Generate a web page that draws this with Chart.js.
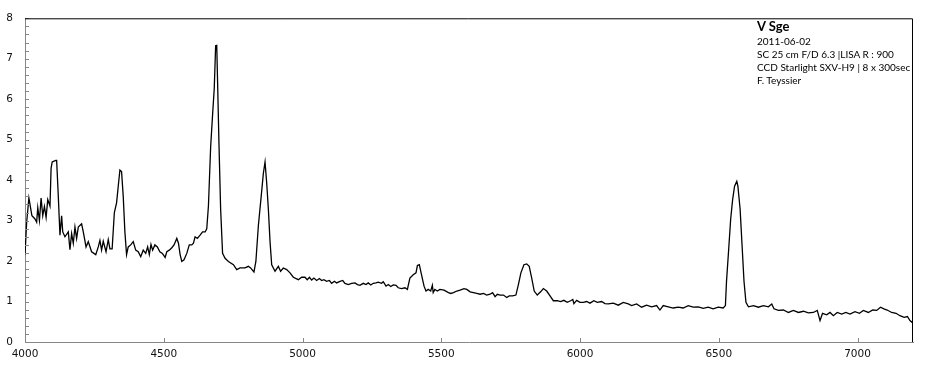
<!DOCTYPE html>
<html>
<head>
<meta charset="utf-8">
<script src="https://cdn.jsdelivr.net/npm/chart.js@4/dist/chart.umd.min.js"></script>
<style>
  body { margin: 0; background: #fff; }
  #wrap { position: relative; width: 941px; height: 375px; }
  .note { position: absolute; left: 757px; font-family: Lato, "Liberation Sans", sans-serif; font-size: 10px; color: #000; white-space: nowrap; line-height: 12px; }
  .note.titre { font-size: 13px; font-weight: bold; line-height: 16px; }
</style>
</head>
<body>
<div id="wrap">
  <canvas id="spectre" width="941" height="375"></canvas>
  <div class="note titre" style="top:18px">V Sge</div>
  <div class="note" style="top:35px">2011-06-02</div>
  <div class="note" style="top:48px">SC 25 cm F/D 6.3 |LISA R : 900</div>
  <div class="note" style="top:61px">CCD Starlight SXV-H9 | 8 x 300sec</div>
  <div class="note" style="top:74px">F. Teyssier</div>
</div>
<script>
const longueurs = [
  4000, 4006, 4014, 4025, 4036, 4042, 4046, 4052, 4058, 4064, 4070, 4076, 4082, 4090,
  4094, 4098, 4111, 4114, 4120, 4126, 4132, 4136, 4144, 4156, 4162, 4168, 4174, 4180,
  4186, 4192, 4204, 4210, 4220, 4228, 4240, 4255, 4264, 4270, 4276, 4282, 4292, 4300,
  4306, 4314, 4322, 4330, 4336, 4342, 4348, 4354, 4360, 4366, 4372, 4381, 4390, 4399,
  4408, 4417, 4426, 4435, 4442, 4448, 4454, 4460, 4468, 4477, 4486, 4495, 4505, 4511,
  4520, 4529, 4537, 4547, 4553, 4559, 4565, 4573, 4583, 4592, 4601, 4607, 4613, 4621,
  4631, 4640, 4649, 4655, 4661, 4669, 4676, 4682, 4687, 4691, 4694, 4699, 4705, 4712,
  4721, 4733, 4751, 4763, 4775, 4793, 4805, 4813, 4825, 4832, 4841, 4850, 4859, 4865,
  4871, 4877, 4883, 4889, 4901, 4913, 4921, 4931, 4943, 4955, 4967, 4985, 4997,
  5009, 5017, 5025, 5033, 5041, 5051, 5061, 5069, 5077, 5087, 5097, 5105, 5115, 5123,
  5135, 5145, 5153, 5165, 5177, 5189, 5198, 5207, 5219, 5229, 5237, 5246, 5255, 5265,
  5273, 5285, 5291, 5301, 5309, 5318, 5327, 5337, 5345, 5357, 5369, 5378, 5387, 5399,
  5409, 5414, 5421, 5429, 5438, 5445, 5453, 5462, 5468, 5471, 5477, 5486, 5495, 5510,
  5526, 5534, 5544, 5556, 5568, 5582, 5592, 5604, 5616, 5628, 5640, 5652, 5664, 5676,
  5685, 5694, 5702, 5712, 5724, 5736, 5745, 5757, 5769, 5778, 5787, 5798, 5808, 5817,
  5826, 5835, 5846, 5858, 5868, 5880, 5892, 5904, 5918, 5930, 5942, 5954, 5966, 5974,
  5978, 5988, 6000, 6012, 6024, 6036, 6050, 6062, 6078, 6090, 6102, 6120, 6138, 6156,
  6174, 6186, 6204, 6222, 6240, 6258, 6276, 6288, 6300, 6318, 6336, 6354, 6372, 6390,
  6408, 6426, 6444, 6462, 6480, 6498, 6516, 6524, 6528, 6536, 6543, 6550, 6557, 6565,
  6569, 6577, 6584, 6591, 6598, 6607, 6625, 6643, 6661, 6679, 6691, 6699, 6715, 6733,
  6751, 6769, 6787, 6805, 6823, 6841, 6855, 6865, 6874, 6889, 6901, 6913, 6927, 6943,
  6958, 6973, 6991, 7007, 7021, 7039, 7055, 7069, 7083, 7095, 7107, 7123, 7139, 7153,
  7168, 7180, 7189, 7196, 7200
];
const flux = [
  2.16, 2.96, 3.56, 3.12, 3.04, 2.96, 3.32, 3.00, 3.56, 3.12, 3.35, 3.08, 3.52, 3.36,
  4.29, 4.45, 4.49, 4.49, 3.60, 2.64, 3.12, 2.72, 2.60, 2.72, 2.28, 2.68, 2.44, 2.84,
  2.56, 2.84, 2.92, 2.72, 2.35, 2.48, 2.23, 2.16, 2.35, 2.51, 2.27, 2.49, 2.23, 2.53,
  2.30, 2.30, 3.20, 3.44, 3.85, 4.25, 4.21, 3.60, 2.72, 2.16, 2.35, 2.40, 2.48, 2.27,
  2.23, 2.11, 2.27, 2.19, 2.35, 2.16, 2.41, 2.27, 2.40, 2.35, 2.23, 2.19, 2.09, 2.23,
  2.27, 2.33, 2.40, 2.56, 2.44, 2.16, 1.99, 2.03, 2.19, 2.40, 2.40, 2.44, 2.60, 2.56,
  2.64, 2.72, 2.72, 2.80, 3.36, 4.82, 5.62, 6.27, 7.32, 7.33, 6.43, 4.90, 3.28, 2.19,
  2.07, 1.99, 1.91, 1.79, 1.83, 1.83, 1.87, 1.83, 1.73, 1.99, 2.88, 3.52, 4.17, 4.45,
  3.93, 3.28, 2.48, 1.91, 1.75, 1.87, 1.75, 1.83, 1.79, 1.71, 1.60, 1.54, 1.60,
  1.60, 1.54, 1.60, 1.53, 1.58, 1.52, 1.57, 1.52, 1.54, 1.50, 1.52, 1.45, 1.50, 1.46,
  1.50, 1.52, 1.45, 1.42, 1.45, 1.46, 1.42, 1.40, 1.45, 1.42, 1.46, 1.41, 1.45, 1.46,
  1.48, 1.45, 1.49, 1.38, 1.42, 1.37, 1.41, 1.40, 1.34, 1.32, 1.34, 1.30, 1.58, 1.66,
  1.71, 1.89, 1.91, 1.66, 1.38, 1.26, 1.30, 1.26, 1.40, 1.22, 1.30, 1.26, 1.30, 1.28,
  1.22, 1.20, 1.22, 1.26, 1.28, 1.32, 1.30, 1.24, 1.22, 1.20, 1.18, 1.20, 1.16, 1.18,
  1.22, 1.12, 1.18, 1.16, 1.16, 1.10, 1.14, 1.14, 1.16, 1.42, 1.71, 1.91, 1.93, 1.87,
  1.58, 1.26, 1.16, 1.24, 1.32, 1.26, 1.14, 1.02, 1.02, 1.00, 1.03, 0.98, 1.02, 1.05,
  0.95, 1.03, 0.98, 0.98, 1.00, 0.96, 1.02, 0.98, 1.00, 0.95, 0.94, 0.96, 0.91, 0.98,
  0.94, 0.90, 0.94, 0.86, 0.91, 0.87, 0.90, 0.79, 0.90, 0.87, 0.84, 0.86, 0.84, 0.90,
  0.86, 0.87, 0.83, 0.86, 0.82, 0.86, 0.84, 0.90, 1.50, 2.31, 3.04, 3.52, 3.85, 3.97,
  3.85, 3.28, 2.39, 1.50, 0.98, 0.87, 0.90, 0.86, 0.90, 0.87, 0.94, 0.82, 0.78, 0.79,
  0.73, 0.78, 0.73, 0.76, 0.72, 0.73, 0.78, 0.53, 0.71, 0.67, 0.73, 0.65, 0.73, 0.69,
  0.73, 0.69, 0.75, 0.71, 0.78, 0.73, 0.79, 0.78, 0.86, 0.82, 0.79, 0.73, 0.71, 0.65,
  0.61, 0.63, 0.53, 0.49, 0.53
];
const ticksX = [4000, 4500, 5000, 5500, 6000, 6500, 7000];
const ticksY = [0, 1, 2, 3, 4, 5, 6, 7, 8];

const points = longueurs.map((l, i) => ({ x: l, y: flux[i] }));
const gris = '#868686';

// petits traits vers l'intérieur + cadre noir en haut et à droite
const cadre = {
  id: 'cadre',
  afterDraw(chart) {
    const ctx = chart.ctx;
    const a = chart.chartArea;
    const sx = chart.scales.x, sy = chart.scales.y;
    ctx.save();
    ctx.lineWidth = 1;
    ctx.strokeStyle = gris;
    ctx.beginPath();
    for (let v = 0; v <= 8.001; v += 0.2) {
      const y = Math.round(sy.getPixelForValue(v)) + 0.5;
      ctx.moveTo(a.left, y);
      ctx.lineTo(a.left + 4, y);
    }
    ticksX.forEach(t => {
      const x = Math.round(sx.getPixelForValue(t)) + 0.5;
      ctx.moveTo(x, a.bottom);
      ctx.lineTo(x, a.bottom - 4);
    });
    ctx.stroke();
    ctx.strokeStyle = '#000';
    ctx.beginPath();
    ctx.moveTo(a.left, a.top + 0.5);
    ctx.lineTo(a.right - 0.5, a.top + 0.5);
    ctx.lineTo(a.right - 0.5, a.bottom);
    ctx.stroke();
    ctx.restore();
  }
};

new Chart(document.getElementById('spectre'), {
  type: 'line',
  data: {
    datasets: [{
      data: points,
      borderColor: '#000',
      borderWidth: 1.3,
      pointRadius: 0,
      tension: 0,
      fill: false
    }]
  },
  options: {
    responsive: false,
    animation: false,
    layout: { padding: { top: 12, right: 28, left: 0, bottom: 0 } },
    plugins: { legend: { display: false }, tooltip: { enabled: false } },
    scales: {
      x: {
        type: 'linear',
        min: 4000,
        max: 7200,
        afterBuildTicks: s => { s.ticks = ticksX.map(v => ({ value: v })); },
        afterFit: s => { s.height = 33; },
        grid: { display: false, drawTicks: false },
        border: { color: gris, width: 1 },
        ticks: { color: '#111', padding: 6, maxRotation: 0, callback: v => String(v), font: { family: 'DejaVu Sans', size: 10.5 } }
      },
      y: {
        min: 0,
        max: 8,
        afterBuildTicks: s => { s.ticks = ticksY.map(v => ({ value: v })); },
        afterFit: s => { s.width = 25; },
        grid: { display: false, drawTicks: false },
        border: { color: gris, width: 1 },
        ticks: { color: '#111', padding: 12, callback: v => String(v), font: { family: 'DejaVu Sans', size: 10.5 } }
      }
    }
  },
  plugins: [cadre]
});
</script>
</body>
</html>
